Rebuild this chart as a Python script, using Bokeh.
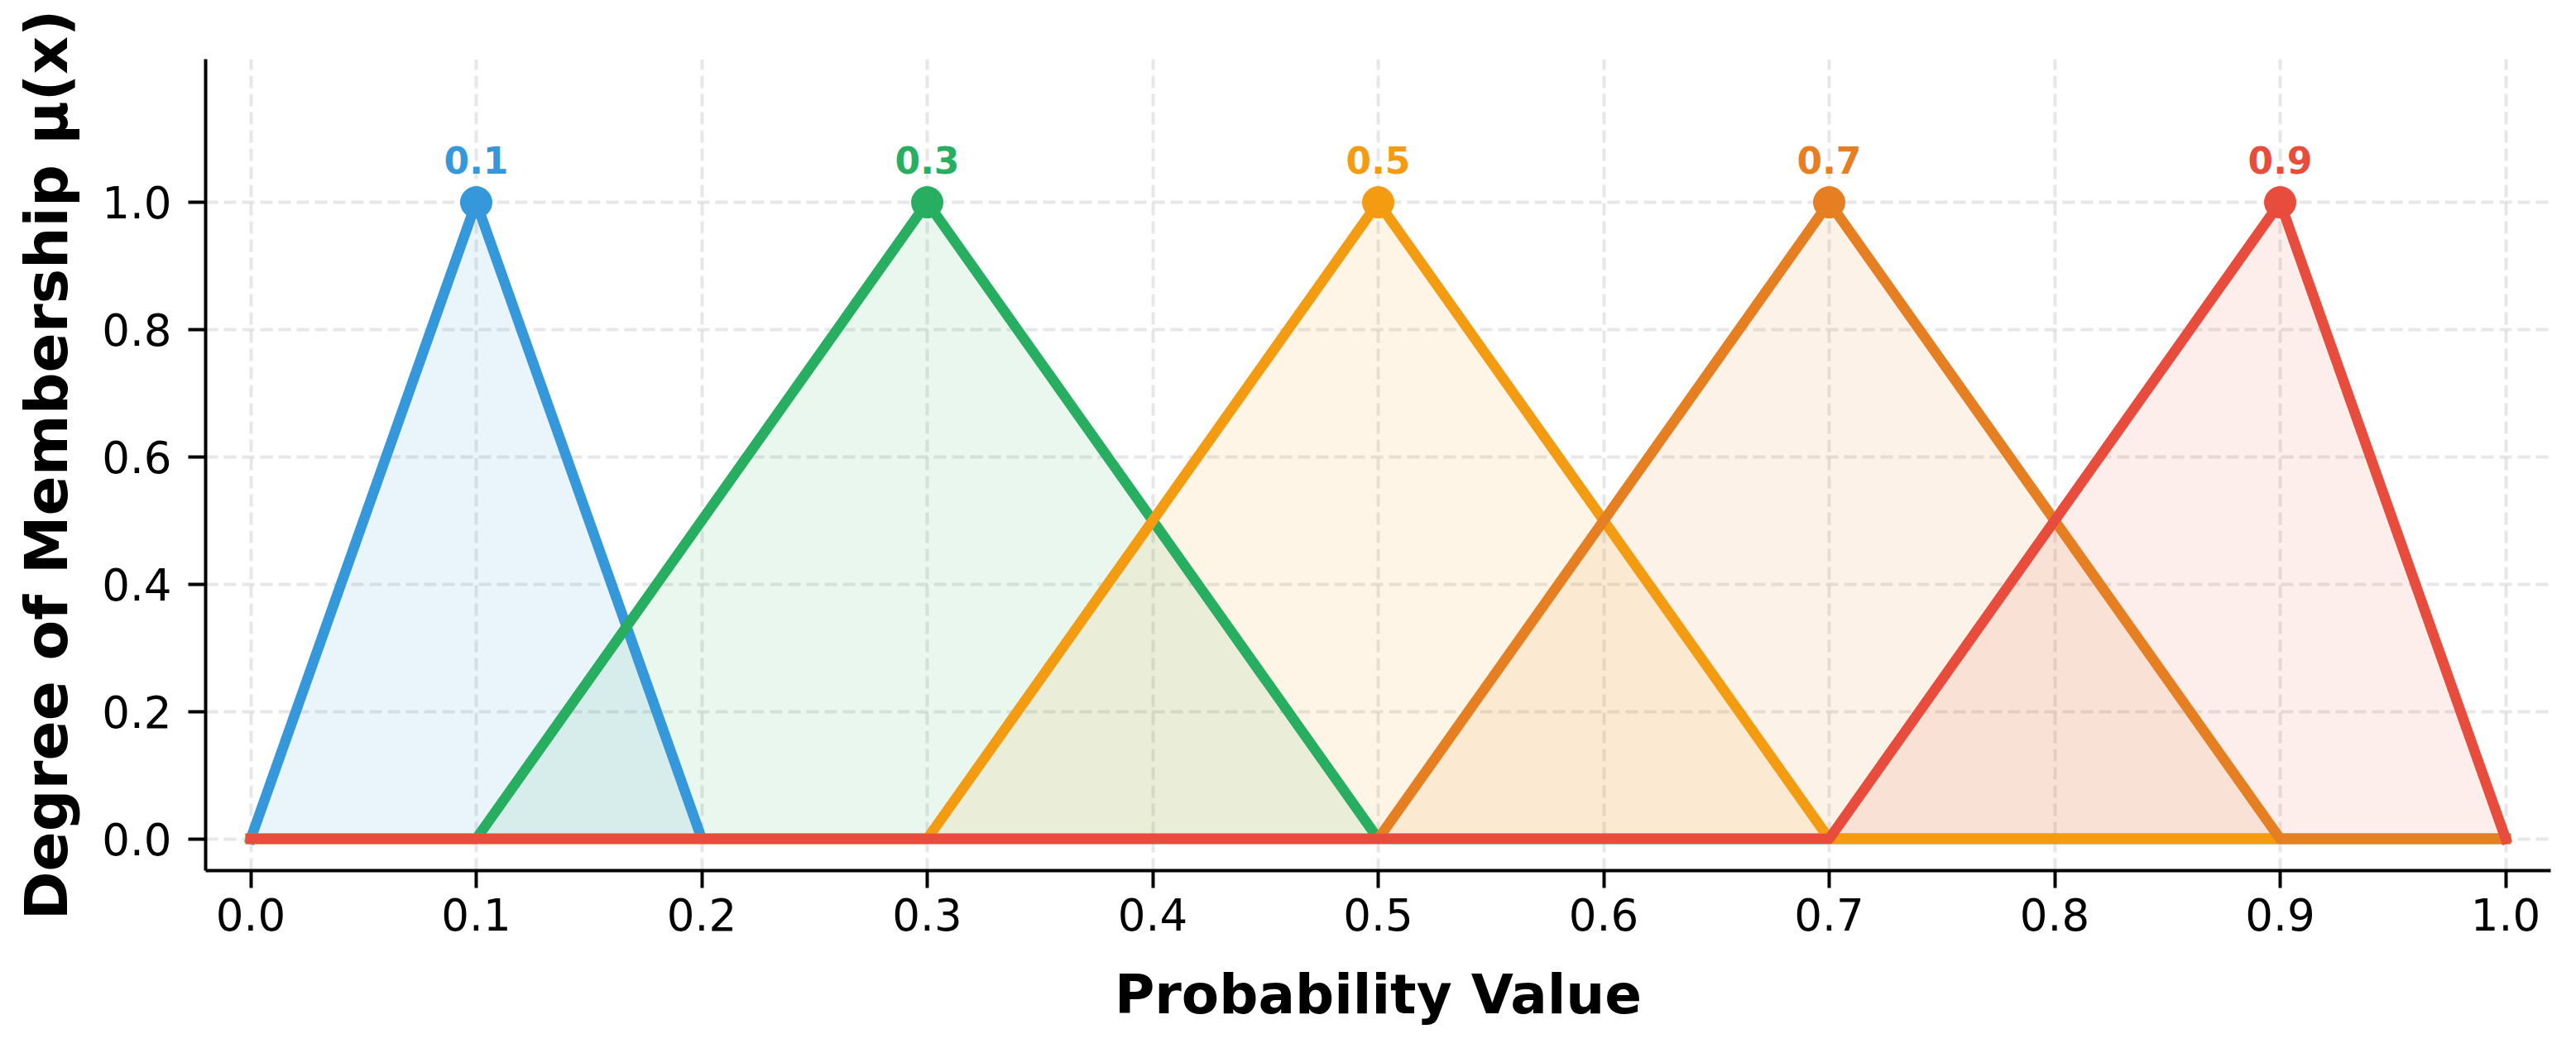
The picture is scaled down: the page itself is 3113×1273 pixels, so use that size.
from bokeh.plotting import figure
from bokeh.models import FixedTicker, PrintfTickFormatter, ColumnDataSource
from bokeh.core.properties import value
from bokeh.embed import file_html
from bokeh.resources import INLINE

# ---- data ----
centers = [0.1, 0.3, 0.5, 0.7, 0.9]
lefts = [0.0, 0.1, 0.3, 0.5, 0.7]
rights = [0.2, 0.5, 0.7, 0.9, 1.0]
peak_labels = ["0.1", "0.3", "0.5", "0.7", "0.9"]
colors = ["#3498db", "#27ae60", "#f39c12", "#e67e22", "#e74c3c"]
x_ticks = [0.0, 0.1, 0.2, 0.3, 0.4, 0.5, 0.6, 0.7, 0.8, 0.9, 1.0]
y_ticks = [0.0, 0.2, 0.4, 0.6, 0.8, 1.0]
x_domain = [0.0, 1.0]
label_y = 1.05

FONT = "DejaVu Sans"

p = figure(width=3113, height=1273, x_range=(-0.02, 1.02), y_range=(-0.05, 1.225),
           output_backend="svg", toolbar_location=None,
           min_border_left=248, min_border_right=31, min_border_top=71, min_border_bottom=221)
p.outline_line_color = None
p.background_fill_color = "white"
p.border_fill_color = "white"

series = []
for c, l, r in zip(centers, lefts, rights):
    xs = [x_domain[0], l, c, r, x_domain[1]]
    ys = [0.0, 0.0, 1.0, 0.0, 0.0]
    series.append((xs, ys))

# fills (all below lines)
for (xs, ys), col in zip(series, colors):
    p.varea(x=xs, y1=[0.0] * len(xs), y2=ys, fill_color=col, fill_alpha=0.1)

# lines + peak markers
for (xs, ys), col, c in zip(series, colors, centers):
    p.line(xs, ys, line_color=col, line_width=12.5, line_join="round", line_cap="square")
    p.scatter([c], [1.0], size=38, fill_color=col, line_color=col, marker="circle")

# peak labels
src = ColumnDataSource(dict(x=centers, y=[label_y] * len(centers), t=peak_labels, c=colors))
p.text(x="x", y="y", text="t", text_color="c", source=src,
       text_font=value(FONT), text_font_style="bold", text_font_size="44px",
       text_align="center", text_baseline="alphabetic", y_offset=-13)

# axes
for ax in (p.xaxis[0], p.yaxis[0]):
    ax.axis_line_width = 4
    ax.axis_line_color = "black"
    ax.major_tick_line_width = 4
    ax.major_tick_line_color = "black"
    ax.major_tick_out = 21
    ax.major_tick_in = 0
    ax.minor_tick_line_color = None
    ax.major_label_text_font = FONT
    ax.major_label_text_font_size = "53px"
    ax.major_label_text_color = "black"
    ax.axis_label_text_font = FONT
    ax.axis_label_text_font_style = "bold"
    ax.axis_label_text_color = "black"
    ax.formatter = PrintfTickFormatter(format="%.1f")

p.xaxis.axis_label_text_font_size = "66px"
p.yaxis.axis_label_text_font_size = "71px"
p.xaxis.ticker = FixedTicker(ticks=x_ticks)
p.yaxis.ticker = FixedTicker(ticks=y_ticks)
p.xaxis.axis_label = "Probability Value"
p.yaxis.axis_label = "Degree of Membership μ(x)"
p.xaxis.major_label_standoff = 12
p.yaxis.major_label_standoff = 20
p.xaxis.axis_label_standoff = 36
p.yaxis.axis_label_standoff = 22

for g in (p.xgrid[0], p.ygrid[0]):
    g.ticker = FixedTicker(ticks=x_ticks if g is p.xgrid[0] else y_ticks)
    g.grid_line_color = "#b0b0b0"
    g.grid_line_alpha = 0.3
    g.grid_line_width = 4
    g.grid_line_dash = "15 7"

open("out.html", "w").write(file_html(p, INLINE))
